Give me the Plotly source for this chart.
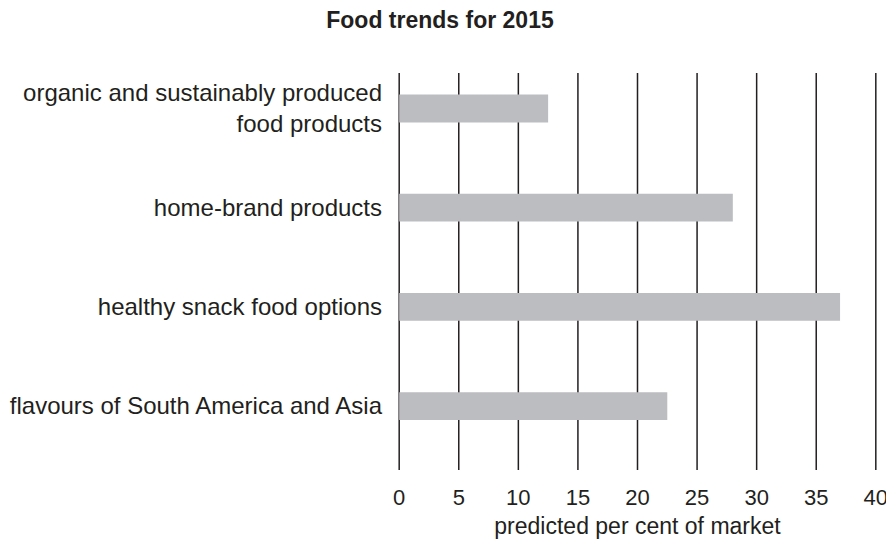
import plotly.graph_objects as go

categories = [
    "organic and sustainably produced<br>food products",
    "home-brand products",
    "healthy snack food options",
    "flavours of South America and Asia",
]
values = [12.5, 28, 37, 22.5]
x_ticks = [0, 5, 10, 15, 20, 25, 30, 35, 40]

font_family = "Liberation Sans, Arial, sans-serif"
ink = "#231f20"

# the page body adds an 8px margin; size the figure so the page barely overflows
W, H = 886, 531
OFF = 8

fig = go.Figure(
    go.Bar(
        x=values,
        y=categories,
        orientation="h",
        marker=dict(color="#bcbdc1", line=dict(width=0)),
        width=0.28,
    )
)

# vertical grid lines at each tick value
for v in x_ticks:
    fig.add_shape(
        type="line",
        xref="x", yref="paper",
        x0=v, x1=v, y0=0, y1=1,
        line=dict(color=ink, width=1.5),
        layer="below",
    )

fig.update_layout(
    width=W,
    height=H,
    paper_bgcolor="white",
    plot_bgcolor="white",
    margin=dict(l=398 - OFF, r=W + OFF - 877, t=73 - OFF, b=H + OFF - 470, autoexpand=False),
    font=dict(family=font_family, color=ink, size=23),
    title=dict(
        text="<b>Food trends for 2015</b>",
        x=(440 - OFF) / W,
        xref="container",
        y=1 - (20 - OFF) / H,
        yref="container",
        xanchor="center",
        yanchor="middle",
        font=dict(size=23, color=ink, family=font_family),
    ),
    showlegend=False,
    bargap=0.72,
)

fig.update_xaxes(
    range=[-0.1, 40.1],
    tickvals=x_ticks,
    ticktext=[str(v) for v in x_ticks],
    showgrid=False,
    zeroline=False,
    showline=False,
    ticks="",
    automargin=False,
    ticklabeloverflow="allow",
    ticklabelstandoff=12,
    tickfont=dict(size=22, color=ink),
    title=dict(text="predicted per cent of market", font=dict(size=23, color=ink), standoff=10),
)

fig.update_yaxes(
    type="category",
    categoryorder="array",
    categoryarray=categories,
    range=[3.645, -0.358],
    showgrid=False,
    zeroline=False,
    showline=False,
    ticks="",
    automargin=False,
    ticklabelstandoff=15,
    tickfont=dict(size=24, color=ink),
)

fig.write_html("out.html")
